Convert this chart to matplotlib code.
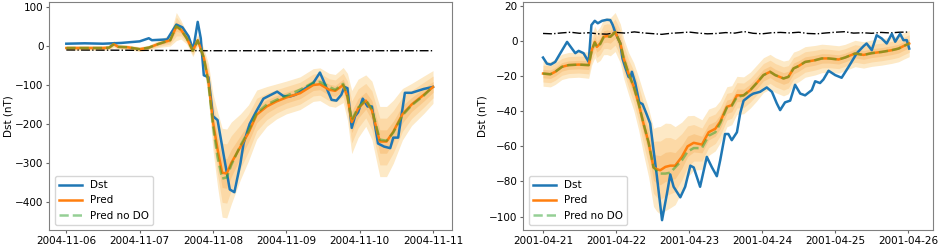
import numpy as np
import matplotlib
matplotlib.use("Agg")
import matplotlib.pyplot as plt
import matplotlib.dates as mdates

# ---- storm 1: 2004-11-06 .. 2004-11-11 (hours since start) ----
start1 = "2004-11-06"
dst1_h = [0, 6, 12, 18, 24, 27, 28, 33, 36, 38, 40, 41.5, 43, 44, 45, 46.5, 48, 49.5,
          51.5, 53.5, 55, 57, 58, 60, 62, 64.5, 67, 69, 71, 73, 75, 77, 80.8, 83, 84.5,
          86.8, 88.4, 90, 91, 92, 93.4, 94.5, 95.5, 97, 98.6, 100, 102, 104, 106, 107,
          108.6, 110.8, 113, 115, 117, 120]
dst1 = [6, 7, 6, 8, 12, 20, 15, 17, 55, 48, 25, -10, 62, 20, -75, -80, -180, -190,
        -280, -368, -375, -300, -250, -200, -170, -135, -125, -117, -128, -130, -125, -115,
        -95, -68, -95, -138, -140, -125, -105, -108, -210, -180, -170, -135, -155, -155,
        -250, -258, -262, -235, -235, -120, -120, -115, -110, -105]

pred1_h = [0, 12, 14, 15.5, 17, 20, 24, 27, 30, 34, 36, 37.5, 39.4, 41.4, 43, 45, 46.5,
           48, 49.5, 51, 52.5, 54, 57, 59.6, 62.3, 65.6, 68.8, 72, 76.5, 80.8, 83, 86, 88,
           90.6, 92, 93.4, 95.5, 98, 100, 102.6, 104.8, 107, 110, 113, 117, 120]
pred1 = [-5, -5, -4, 5, -2, -3, -8, -4, 5, 15, 50, 42, 20, -12, 15, -30, -90,
         -195, -265, -325, -327, -300, -258, -223, -176, -155, -142, -132, -121, -100, -98,
         -112, -115, -100, -130, -195, -160, -140, -165, -245, -245, -220, -175, -150, -125, -105]
nodo1 = [-5, -5, -4, 4, -2, -3, -8, -4, 5, 15, 52, 42, 20, -12, 14, -30, -95,
         -205, -285, -340, -337, -305, -255, -218, -172, -150, -138, -128, -112, -94, -92,
         -105, -112, -97, -128, -190, -158, -138, -162, -240, -243, -222, -178, -152, -127, -104]
sig1 = [2, 2, 2, 3, 2, 2, 2, 2, 3, 5, 12, 8, 5, 5, 5, 8, 15,
        24, 32, 38, 38, 35, 28, 24, 21, 17, 15, 14, 14, 14, 14,
        14, 14, 15, 20, 27, 25, 22, 25, 30, 30, 27, 22, 18, 16, 14]

base1_h = [0, 24, 48, 72, 96, 120]
base1 = [-10, -11, -12, -12, -12, -12]

# ---- storm 2: 2001-04-21 .. 2001-04-26 ----
start2 = "2001-04-21"
dst2_h = [0, 1.3, 2.5, 4, 5.7, 7.9, 9.5, 10.6, 11.7, 13.3, 15, 15.9, 17, 18, 19.4, 21,
          22.1, 22.9, 23.7, 25.4, 26.1, 27, 28.1, 28.7, 29.2, 30.3, 31.6, 32.7, 34.1, 35.2,
          36.3, 37.4, 39.1, 40.7, 41.8, 42.9, 45.1, 46.7, 48.4, 49.5, 51.6, 53.8, 55.5,
          57.1, 58.2, 59.8, 60.9, 62, 63.7, 64.8, 65.9, 68.1, 69.1, 71.3, 73.5, 75.2, 76.8,
          77.9, 79.5, 81.2, 82.8, 84.5, 86.1, 88.3, 89.4, 91, 92.1, 93.8, 96, 98.1, 100.3,
          103.1, 105.3, 106.3, 108, 109.6, 111.3, 112.9, 114.6, 115.7, 117.3, 118.4, 119.5, 120.3]
dst2 = [-9.5, -13, -13.5, -12, -7, -0.6, -4.4, -7, -5.7, -7, -12, 9, 11.4, 10, 11.4, 12,
        11.8, 9, 5, -1.5, -10, -15, -20.5, -21, -17.6, -24, -35, -36, -42, -47,
        -62, -77, -102, -87, -76, -83, -89, -83, -71, -72, -83, -66, -72,
        -77, -68, -53, -53, -56.5, -52, -41, -34, -31, -30, -29, -26.5, -29, -35.6,
        -39.4, -35, -34, -25, -30, -31, -28, -23, -24, -22, -17, -19.5, -21, -15,
        -7, -3, -1.5, -5.3, 3.2, 1.3, -1.5, 4, -0.5, 4, 0.4, 0.4, -4.4]

pred2_h = [0, 2.4, 4, 6.2, 8.4, 11.7, 15, 16, 17, 17.7, 18.8, 19.9, 21, 22.1, 23.7, 25.4,
           26.5, 28.1, 29.8, 31.4, 33, 34.7, 36.3, 37.4, 38.5, 40.2, 41.8, 43.4, 45.6,
           47.5, 49.5, 52.2, 54.4, 56.6, 58.2, 60.4, 62, 63.7, 65.9, 68.1, 70.2, 72.4,
           74.6, 76.3, 79, 80.6, 82.3, 83.9, 86.1, 89.4, 91.6, 93.8, 97.1, 99.2, 102.5,
           105.3, 108, 111.3, 114.6, 116.8, 118.4, 120.3]
pred2 = [-18.6, -19, -17.6, -14.8, -13.8, -13.5, -13.8, -5.3, -0.6, -3.4, -1.5, 2.3, 2.7,
         2.3, 5, -1.5, -10, -18.6, -26, -35.6, -47, -58, -72, -73, -73.6, -71.7, -71, -71,
         -66, -60, -58, -59, -52, -50, -46, -37.5, -36.6, -31, -31, -28, -24, -19.5,
         -17.6, -19.5, -21.4, -20.5, -15.7, -14.4, -12, -11, -10, -10, -10.6, -9.5, -7.2,
         -8, -7, -6.3, -5.3, -4.4, -3, -1.5]
nodo2 = [-18.6, -19, -17.6, -14.8, -13.8, -13.5, -13.8, -5.5, -1, -3.4, -1.8, 2, 2.5,
         2.3, 4.8, -1.5, -10, -18.6, -26, -35.6, -47, -58, -72, -74, -75.5, -75.5, -75,
         -72, -68, -63, -61, -61, -54, -52, -47, -38, -37, -32, -31, -28, -24, -19.5,
         -17.6, -19.5, -21.4, -20.5, -15.7, -14.4, -12, -11, -10, -10, -10.6, -9.5, -7.2,
         -8, -7, -6.3, -5.3, -4.4, -3, -1.5]
sig2 = [2.4, 2.4, 2.4, 2.4, 2.4, 2.4, 2.5, 2.8, 3, 3, 3.2, 3.4, 3.5, 3.6, 3.7, 3.7,
        3.8, 4, 4.5, 5, 5.8, 6.5, 7.4, 8, 8.3, 8.3, 8, 7.4, 6.6,
        5.8, 5.2, 4.7, 4.4, 4.2, 4.0, 3.8, 3.7, 3.6, 3.5, 3.4, 3.4, 3.3,
        3.3, 3.3, 3.3, 3.2, 3.1, 3.0, 2.9, 2.8, 2.7, 2.6, 2.6, 2.5, 2.5,
        2.5, 2.5, 2.5, 2.5, 2.5, 2.5, 2.5]

base2_h = [0, 3, 6, 9, 12, 15, 18, 21, 24, 27, 30, 33, 36, 39, 42, 45, 48, 51, 54, 57, 60,
           63, 66, 69, 72, 75, 78, 81, 84, 87, 90, 93, 96, 99, 102, 105, 108, 111, 114, 117, 120]
base2 = [4.2, 4.0, 4.5, 4.9, 4.3, 4.6, 4.0, 3.8, 4.8, 4.4, 5.1, 4.5, 4.1, 3.7, 4.3, 4.6, 5.0,
         4.4, 4.0, 4.2, 4.7, 4.4, 5.3, 4.3, 4.0, 4.6, 4.8, 4.5, 4.9, 4.2, 4.0, 4.5, 4.9, 5.2,
         4.4, 4.6, 4.3, 4.8, 4.5, 4.9, 5.0]

band_colors = ["#fde9c6", "#fcd9a6", "#f9c98a"]
FS = 7.5


def to_dates(start, hours):
    return mdates.date2num(np.datetime64(start)) + np.asarray(hours, dtype=float) / 24.0


def draw_panel(ax, start, dst_h, dst, pred_h, pred, nodo, sig, base_h, base):
    tp = to_dates(start, pred_h)
    pred = np.asarray(pred, dtype=float)
    sig = np.asarray(sig, dtype=float)
    for k, c in zip([3, 2, 1], band_colors):
        ax.fill_between(tp, pred - k * sig, pred + k * sig, color=c, lw=0)
    ax.plot(to_dates(start, base_h), base, color="k", ls="-.", lw=1.0)
    ax.plot(to_dates(start, dst_h), dst, color="#1f77b4", lw=1.8, label="Dst")
    ax.plot(tp, pred, color="#ff7f0e", lw=1.8, label="Pred")
    ax.plot(tp, nodo, color="#2ca02c", lw=1.8, ls="--", alpha=0.5, label="Pred no DO")
    ax.set_ylabel("Dst (nT)", fontsize=FS, labelpad=1)
    ax.xaxis.set_major_locator(mdates.DayLocator())
    ax.xaxis.set_major_formatter(mdates.DateFormatter("%Y-%m-%d"))
    ax.tick_params(labelsize=FS, length=2.5, pad=1.5, color="0.4")
    for s in ax.spines.values():
        s.set_color("0.5")
    ax.legend(loc="lower left", fontsize=FS, handlelength=2.2)


fig = plt.figure(figsize=(9.41, 2.45), dpi=100)
ax1 = fig.add_axes([49.3 / 941, 1 - 230 / 245, 402.4 / 941, 228 / 245])
ax2 = fig.add_axes([523.3 / 941, 1 - 230 / 245, 409.4 / 941, 228 / 245])

draw_panel(ax1, start1, dst1_h, dst1, pred1_h, pred1, nodo1, sig1, base1_h, base1)
draw_panel(ax2, start2, dst2_h, dst2, pred2_h, pred2, nodo2, sig2, base2_h, base2)

d1 = mdates.date2num(np.datetime64(start1))
d2 = mdates.date2num(np.datetime64(start2))
ax1.set_xlim(d1 - 0.232, d1 + 5.255)
ax1.set_ylim(-472, 113)
ax1.set_yticks([100, 0, -100, -200, -300, -400])
ax2.set_xlim(d2 - 0.27, d2 + 5.334)
ax2.set_ylim(-107.6, 22.1)
ax2.set_yticks([20, 0, -20, -40, -60, -80, -100])

fig.savefig("out.png", dpi=100)
